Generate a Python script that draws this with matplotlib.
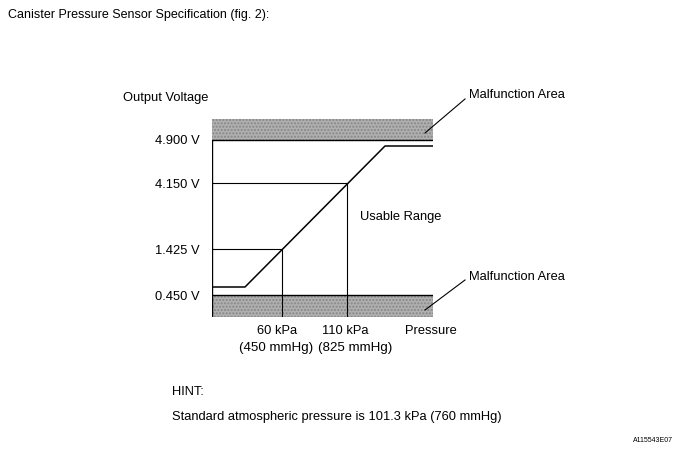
import matplotlib.pyplot as plt

plt.rcParams['font.family'] = ['Liberation Sans', 'DejaVu Sans']

# schematic units: x = pressure position, y = voltage position (not to scale)
volt_labels = ['0.450 V', '1.425 V', '4.150 V', '4.900 V']
volt_pos = [22, 68, 134, 177]
kpa_labels = ['60 kPa', '110 kPa']
mmhg_labels = ['(450 mmHg)', '(825 mmHg)']
kpa_pos = [70, 135]
curve_x = [0, 33, 173, 221]
curve_y = [30, 30, 171, 171]

X_MAX = 221
Y_MAX = 198
FS = 9.3

fig = plt.figure(figsize=(6.81, 4.53), dpi=100)
ax = fig.add_axes([212 / 681, (453 - 317) / 453, 221 / 681, 198 / 453])
ax.set_xlim(0, X_MAX)
ax.set_ylim(0, Y_MAX)
for s in ax.spines.values():
    s.set_visible(False)

# malfunction bands
band_kw = dict(facecolor='#b0b0b0', edgecolor='#858585', hatch='.....', linewidth=0)
ax.axhspan(0, volt_pos[0], **band_kw)
ax.axhspan(volt_pos[-1], Y_MAX, **band_kw)

ax.axhline(volt_pos[0], color='black', lw=1)
ax.axhline(volt_pos[-1], color='black', lw=1)
ax.vlines(0, 0, volt_pos[-1], color='black', lw=1)

# guide lines to the curve
ax.hlines(volt_pos[1], 0, kpa_pos[0], color='black', lw=0.8)
ax.hlines(volt_pos[2], 0, kpa_pos[1], color='black', lw=0.8)
ax.vlines(kpa_pos, 0, [volt_pos[1], volt_pos[2]], color='black', lw=0.8)

ax.plot(curve_x, curve_y, color='black', lw=1.1)

ax.set_yticks(volt_pos)
ax.set_yticklabels(volt_labels, fontsize=FS)
ax.tick_params(axis='y', length=0, pad=9)
ax.set_xticks([])

kpa_shift = [-5, -1.5]
mmhg_shift = [-6, 8.5]
for xp, k, m, dk, dm in zip(kpa_pos, kpa_labels, mmhg_labels, kpa_shift, mmhg_shift):
    ax.text(xp + dk, -14, k, ha='center', va='center', fontsize=FS, clip_on=False)
    ax.text(xp + dm, -31, m, ha='center', va='center', fontsize=9.6, clip_on=False)
ax.text(219, -14, 'Pressure', ha='center', va='center', fontsize=FS, clip_on=False)
ax.text(-4, 219, 'Output Voltage', ha='right', va='center', fontsize=FS, clip_on=False)
ax.text(189, 100, 'Usable Range', ha='center', va='center', fontsize=FS)

ax.plot([213, 253], [184, 218], color='black', lw=0.8, clip_on=False)
ax.text(257, 222, 'Malfunction Area', ha='left', va='center', fontsize=FS, clip_on=False)
ax.plot([213, 253], [7, 37], color='black', lw=0.8, clip_on=False)
ax.text(257, 40, 'Malfunction Area', ha='left', va='center', fontsize=FS, clip_on=False)

fig.text(8 / 681, 1 - 15 / 453, 'Canister Pressure Sensor Specification (fig. 2):',
         ha='left', va='center', fontsize=9)
fig.text(172 / 681, 1 - 392 / 453, 'HINT:', ha='left', va='center', fontsize=FS)
fig.text(172 / 681, 1 - 417 / 453,
         'Standard atmospheric pressure is 101.3 kPa (760 mmHg)',
         ha='left', va='center', fontsize=FS)
fig.text(673 / 681, 1 - 441 / 453, 'A115543E07', ha='right', va='center', fontsize=5)

fig.savefig('out.png', dpi=100)
